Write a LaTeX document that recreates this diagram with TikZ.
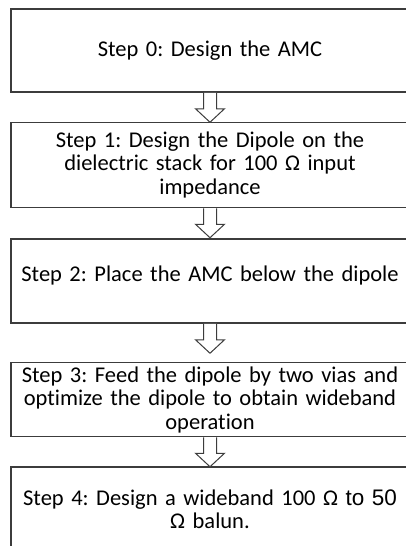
\documentclass[tikz,border=0pt]{standalone}
\usepackage{fontspec}
\setmainfont{Carlito}[Ligatures=CommonOff]
\newfontfamily\arialfont{Liberation Sans}
\usetikzlibrary{positioning,calc}
\frenchspacing

\definecolor{boxgray}{HTML}{3C3C3C}

\tikzset{
  stepbox/.style={draw=boxgray, line width=1.5pt, minimum width=398pt,
    text width=396pt, align=center, inner sep=0pt,
    font=\fontsize{22.5}{23.5}\selectfont},
  arrowline/.style={draw=boxgray, fill=white, line width=1pt, line join=miter},
}

% block arrow hanging below a box
\newcommand{\steparrow}[1]{%
  \draw[arrowline] ($(#1.south)+(-6.5,0)$) -- ++(0,-16) -- ++(-8,0)
    -- ++(14.5,-13.5) -- ++(14.5,13.5) -- ++(-8,0) -- ++(0,16);}

\begin{document}
\begin{tikzpicture}[x=1pt,y=1pt]
    \useasboundingbox (0,0) rectangle (406,-546);
    \node[stepbox, minimum height=83pt] (step0) at (210,-50.5) {Step 0: Design the AMC};
    \node[stepbox, minimum height=85pt, below=29pt of step0] (step1)
      {Step 1: Design the Dipole on the\\ dielectric stack for 100 Ω input\\ impedance};
    \node[stepbox, minimum height=84pt, text depth=14pt, below=30pt of step1] (step2)
      {Step 2: Place the AMC below the dipole};
    \node[stepbox, minimum height=74pt, below=38pt of step2] (step3)
      {Step 3: Feed the dipole by two vias and\\ optimize the dipole to obtain wideband\\ operation};
    \node[stepbox, minimum height=84pt, below=29pt of step3] (step4)
      {Step 4: Design a wideband 100 Ω {\arialfont to 50}\\ Ω balun.};
    \steparrow{step0}
    \steparrow{step1}
    \steparrow{step2}
    \steparrow{step3}
  \end{tikzpicture}
\end{document}
